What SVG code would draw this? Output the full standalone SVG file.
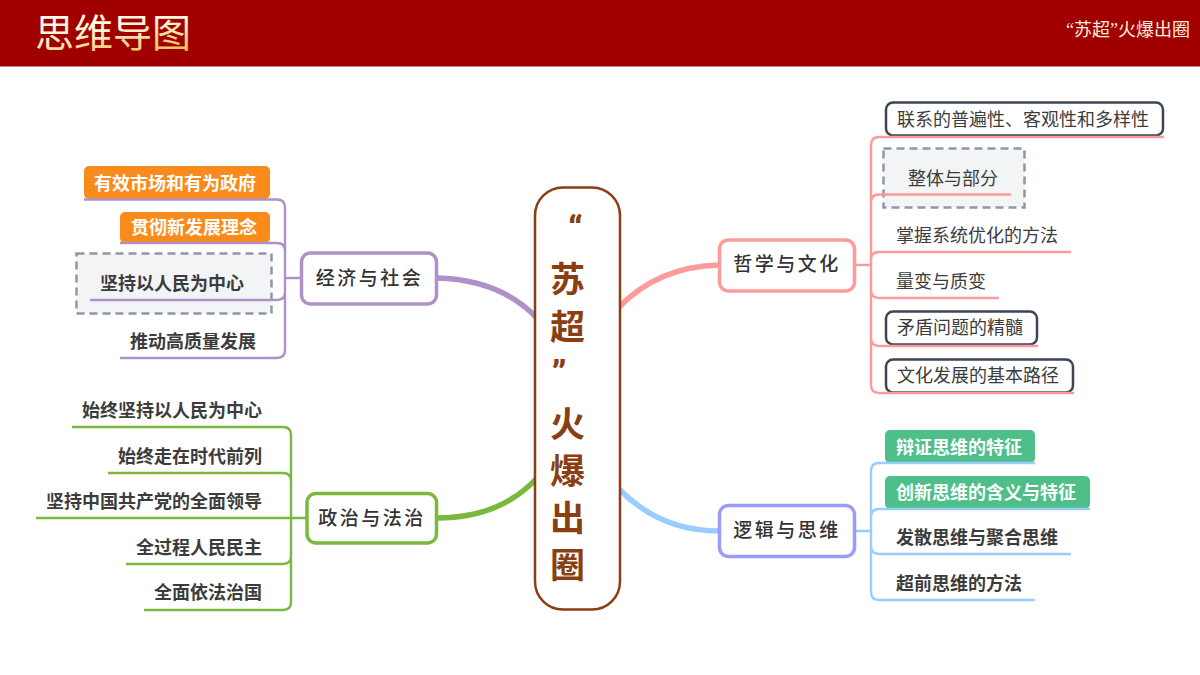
<svg xmlns="http://www.w3.org/2000/svg" width="1200" height="675" viewBox="0 0 1200 675">
<style>
text{font-family:"Noto Sans CJK SC","Noto Sans",sans-serif;font-size:18px;fill:#3c3c3c}
.b{font-weight:700}.w{fill:#fff}.e{text-anchor:end}
.c{fill:none;stroke-width:2.4;stroke-linecap:butt}
.t{fill:none;stroke-width:5.5}
.pu{stroke:#ae92c7}.gr{stroke:#7ab93d}.pi{stroke:#ff9a9c}.bl{stroke:#99ccff}
.m{fill:#fff;stroke-width:3.5}
.mt{font-size:19px;letter-spacing:2.5px;text-anchor:middle;font-weight:500;fill:#333}
.d{fill:#f3f4f6;stroke:#8f97a6;stroke-width:2.5;stroke-dasharray:8 5}
.k{fill:#fff;stroke:#3c4654;stroke-width:2.5}
.ct{font-size:35px;font-weight:700;fill:#8a3f13;text-anchor:middle}
.q{font-family:Roboto,"Noto Sans",sans-serif;font-weight:900}
</style>
<defs>
<linearGradient id="gold" x1="0" y1="0" x2="0.35" y2="1">
<stop offset="0" stop-color="#ffffff"/><stop offset="0.6" stop-color="#fff4d6"/><stop offset="1" stop-color="#f5c45e"/>
</linearGradient>
</defs>
<g id="header">
<rect x="0" y="0" width="1200" height="66" fill="#a00000"/>
<rect x="0" y="66" width="1200" height="1" fill="#cf7f7f"/>
<text x="35" y="47" style="font-size:39px;font-weight:400;fill:url(#gold)">思维导图</text>
<text x="1066" y="36" style='font-family:"Liberation Serif","Noto Sans CJK SC",sans-serif;font-size:18px;fill:#fdeed8'>“苏超”火爆出圈</text>
</g>
<g id="leaf-e1"><rect x="84" y="166" width="186" height="33" rx="5" fill="#f98b1d"/><text class="b w" x="94" y="189.500">有效市场和有为政府</text></g>
<g id="leaf-e2"><rect x="120" y="212" width="150" height="31" rx="5" fill="#f98b1d"/><text class="b w" x="131" y="233.500">贯彻新发展理念</text></g>
<g id="leaf-e3"><rect class="d" x="76.500" y="253.500" width="195" height="60"/><text class="b" x="100" y="289.500">坚持以人民为中心</text></g>
<g id="leaf-e4"><text class="b" x="130" y="347.500">推动高质量发展</text></g>
<g id="leaf-p1"><text class="b e" x="262" y="416.500">始终坚持以人民为中心</text></g>
<g id="leaf-p2"><text class="b e" x="262" y="462.500">始终走在时代前列</text></g>
<g id="leaf-p3"><text class="b e" x="262" y="507.500">坚持中国共产党的全面领导</text></g>
<g id="leaf-p4"><text class="b e" x="262" y="553.500">全过程人民民主</text></g>
<g id="leaf-p5"><text class="b e" x="262" y="598.500">全面依法治国</text></g>
<g id="leaf-c1"><rect class="k" x="886" y="102.500" width="277" height="33" rx="7"/><text x="897" y="125.500">联系的普遍性、客观性和多样性</text></g>
<g id="leaf-c2"><rect class="d" x="883.500" y="148.500" width="141" height="59"/><text x="908" y="185">整体与部分</text></g>
<g id="leaf-c3"><text x="896" y="241.500">掌握系统优化的方法</text></g>
<g id="leaf-c4"><text x="896" y="287.500">量变与质变</text></g>
<g id="leaf-c5"><rect class="k" x="886" y="311.500" width="151" height="33" rx="7"/><text x="897" y="333.500">矛盾问题的精髓</text></g>
<g id="leaf-c6"><rect class="k" x="886" y="359.500" width="187" height="33" rx="7"/><text x="897" y="381.500">文化发展的基本路径</text></g>
<g id="leaf-l1"><rect x="885" y="430" width="150" height="33" rx="5" fill="#4fbf8a"/><text class="b w" x="896" y="453.500">辩证思维的特征</text></g>
<g id="leaf-l2"><rect x="885" y="476" width="205" height="33" rx="5" fill="#4fbf8a"/><text class="b w" x="896" y="498.500">创新思维的含义与特征</text></g>
<g id="leaf-l3"><text class="b" x="896" y="543.500">发散思维与聚合思维</text></g>
<g id="leaf-l4"><text class="b" x="896" y="589.500">超前思维的方法</text></g>
<g id="connectors">
<path class="t pu" d="M437 278C480 279 512 292 537 318"/>
<path class="t gr" d="M437 518C480 518 512 505 537 478"/>
<path class="t pi" d="M618 308C645 280 680 266 719 265"/>
<path class="t bl" d="M618 488C645 516 680 531 719 531"/>
<path class="c pu" d="M84 199.500H277Q285 199.500 285 207.500V350Q285 358 277 358H120M120 243H277Q285 243 285 251M285 292Q285 300 277 300H90M285 278H301"/>
<path class="c gr" d="M72 427H283Q291 427 291 435V602Q291 610 283 610H144M108 473H283Q291 473 291 481M36 518H307M291 556Q291 564 283 564H126"/>
<path class="c pi" d="M1164 137H879Q871 137 871 145V385Q871 393 879 393H1074M1011 194.500H879Q871 194.500 871 202.500M1071 252H879Q871 252 871 260M871 290Q871 298 879 298H999M871 338Q871 346 879 346H1038M855 265H871"/>
<path class="c bl" d="M1035 463H879Q871 463 871 471V592Q871 600 879 600H1035M1090 509H879Q871 509 871 517M871 546Q871 554 879 554H1071M855 531H871"/>
</g>
<g id="node-economy"><rect class="m" x="301.500" y="253" width="135" height="51" rx="9" stroke="#ae92c7"/><text class="mt" x="369.500" y="284.500">经济与社会</text></g>
<g id="node-politics"><rect class="m" x="307" y="493.500" width="129.500" height="49.500" rx="9" stroke="#7ab93d"/><text class="mt" x="372" y="524.500">政治与法治</text></g>
<g id="node-culture"><rect class="m" x="719.500" y="240" width="135" height="51" rx="9" stroke="#ff9a9c"/><text class="mt" x="787" y="270.500">哲学与文化</text></g>
<g id="node-logic"><rect class="m" x="719.500" y="505.500" width="135" height="51" rx="9" stroke="#9b9bfa"/><text class="mt" x="787" y="536.500">逻辑与思维</text></g>
<g id="node-center">
<rect x="535" y="187.500" width="85" height="422" rx="28" fill="#fff" stroke="#8a3f13" stroke-width="2.500"/>
<text class="ct q" x="575.500" y="241">“</text>
<text class="ct" x="567.500" y="292">苏</text>
<text class="ct" x="567.500" y="340">超</text>
<text class="ct q" x="559" y="385">”</text>
<text class="ct" x="567.500" y="437">火</text>
<text class="ct" x="567.500" y="484">爆</text>
<text class="ct" x="567.500" y="531">出</text>
<text class="ct" x="567.500" y="578">圈</text>
</g>
</svg>
